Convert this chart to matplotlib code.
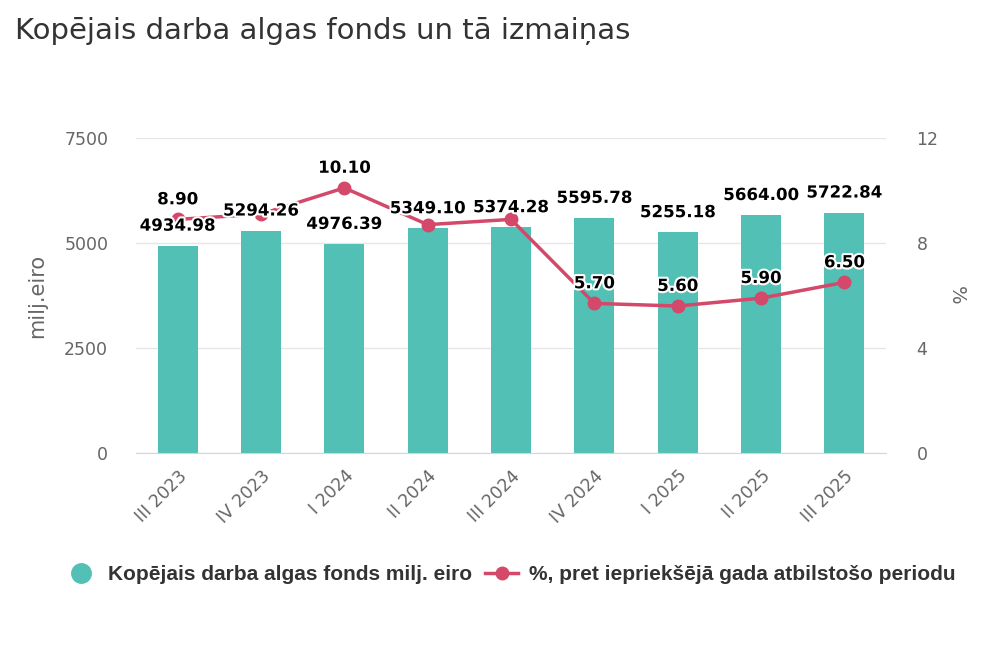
import matplotlib.pyplot as plt
import matplotlib.patheffects as pe
from matplotlib.lines import Line2D

# data
quarters = ['III 2023', 'IV 2023', 'I 2024', 'II 2024', 'III 2024',
            'IV 2024', 'I 2025', 'II 2025', 'III 2025']
fund = [4934.98, 5294.26, 4976.39, 5349.10, 5374.28,
        5595.78, 5255.18, 5664.00, 5722.84]
change = [8.90, 9.10, 10.10, 8.70, 8.90, 5.70, 5.60, 5.90, 6.50]
change_labels = ['8.90', '', '10.10', '', '', '5.70', '5.60', '5.90', '6.50']

bar_col = '#52c0b4'
line_col = '#d4486a'
halo = [pe.withStroke(linewidth=3, foreground='white')]

fig = plt.figure(figsize=(10, 6.67), dpi=100)
ax = fig.add_axes([0.136, 0.3208, 0.75, 0.4723])
ax2 = ax.twinx()

x = list(range(len(quarters)))
ax.bar(x, fund, width=0.48, color=bar_col, zorder=2)
ax.set_xlim(-0.5, len(quarters) - 0.5)
ax.set_ylim(0, 7500)
ax.set_yticks([0, 2500, 5000, 7500])
ax.grid(axis='y', color='#e6e6e6', linewidth=1, zorder=0)
ax.set_axisbelow(True)

ax2.plot(x, change, color=line_col, linewidth=2.5, marker='o',
         markersize=9, zorder=3)
ax2.set_ylim(0, 12)
ax2.set_yticks([0, 4, 8, 12])

for a in (ax, ax2):
    for s in a.spines.values():
        s.set_visible(False)
    a.tick_params(length=0, labelsize=12.5, labelcolor='#666666')
ax.spines['bottom'].set_visible(True)
ax.spines['bottom'].set_color('#ccd6eb')
ax.tick_params(axis='y', pad=20)
ax2.tick_params(axis='y', pad=22)

ax.set_xticks(x)
ax.set_xticklabels(quarters, rotation=45, ha='right', rotation_mode='anchor')
ax.tick_params(axis='x', pad=10)

ax.set_ylabel('milj.eiro', fontsize=15, color='#666666', labelpad=12)
ax2.set_ylabel('%', fontsize=14, color='#666666', rotation=270, labelpad=20)

# bar labels, drawn in ax2 so they sit on top of the line
for xi, v in zip(x, fund):
    ax2.annotate(f'{v:.2f}', (xi, v), xycoords=ax.transData,
                 xytext=(0, 8), textcoords='offset points',
                 ha='center', va='bottom', fontsize=12, fontweight='bold',
                 color='black', path_effects=halo, zorder=5)

# line labels
for xi, v, lab in zip(x, change, change_labels):
    if lab:
        ax2.annotate(lab, (xi, v), xytext=(0, 8), textcoords='offset points',
                     ha='center', va='bottom', fontsize=12, fontweight='bold',
                     color='black', path_effects=halo, zorder=6)

fig.text(0.015, 0.953, 'Kopējais darba algas fonds un tā izmaiņas',
         fontsize=21, color='#333333', va='center')

handles = [
    Line2D([], [], linestyle='none', marker='o', markersize=14,
           markerfacecolor=bar_col, markeredgecolor=bar_col),
    Line2D([], [], color=line_col, linewidth=2.5, marker='o', markersize=9),
]
fig.legend(handles, ['Kopējais darba algas fonds milj. eiro',
                     '%, pret iepriekšējā gada atbilstošo periodu'],
           loc='center', bbox_to_anchor=(0.51, 0.138), ncol=2, frameon=False,
           handlelength=1.6, handletextpad=0.5, columnspacing=0.6,
           prop={'family': ['Liberation Sans', 'DejaVu Sans'],
                 'weight': 'bold', 'size': 15}, labelcolor='#333333')

fig.savefig('out.png', dpi=100, facecolor='white')
